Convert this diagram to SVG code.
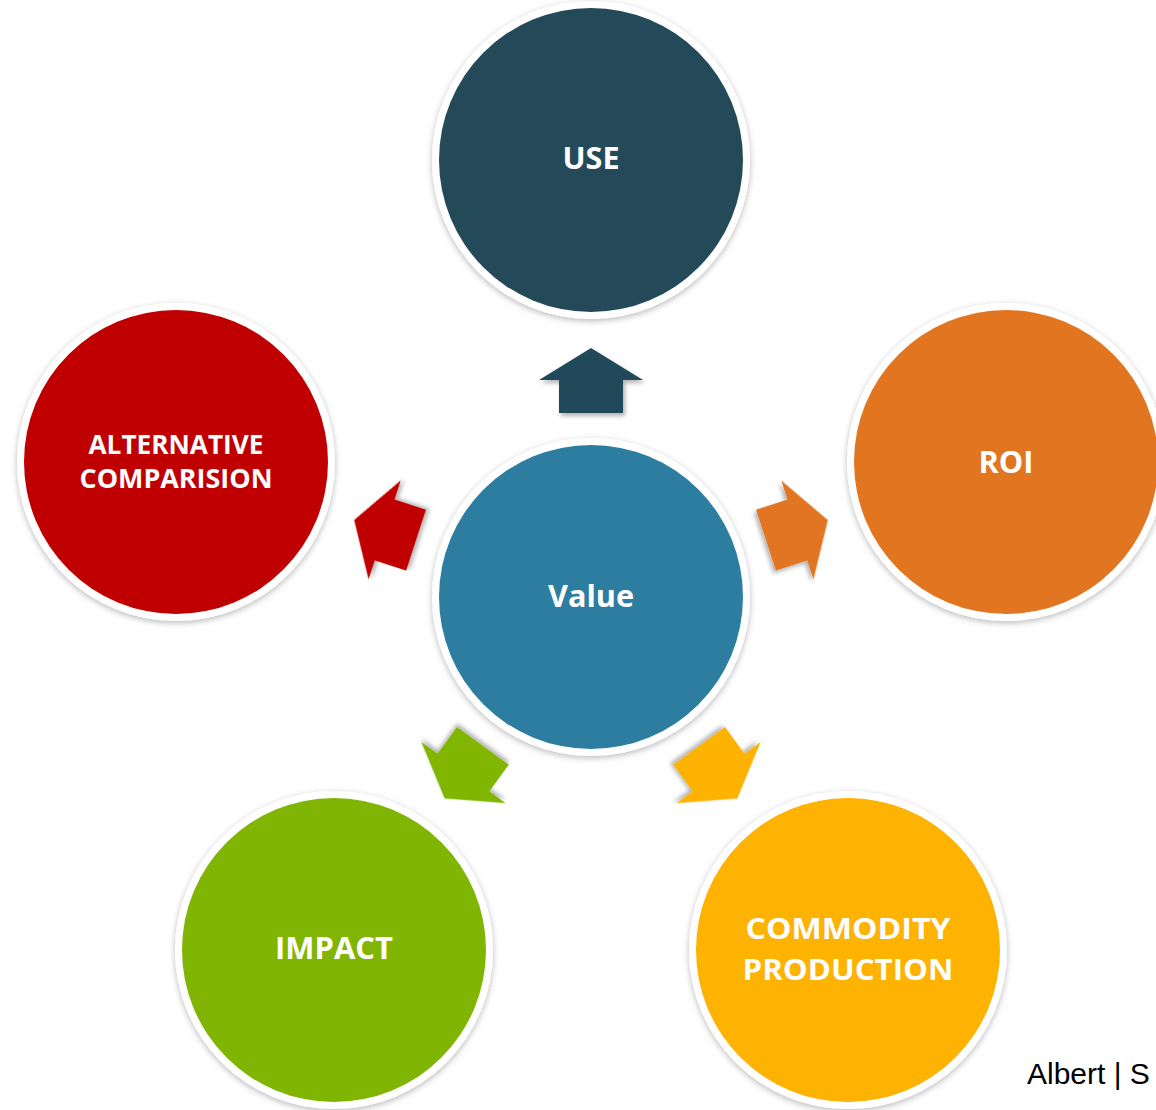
<svg xmlns="http://www.w3.org/2000/svg" width="1156" height="1110" viewBox="0 0 1156 1110">
  <defs>
    <filter id="sh" x="-20%" y="-20%" width="140%" height="140%">
      <feDropShadow dx="0" dy="2" stdDeviation="3" flood-color="#000" flood-opacity="0.28"/>
    </filter>
    <filter id="ash" x="-20%" y="-20%" width="140%" height="140%">
      <feDropShadow dx="2" dy="3" stdDeviation="2" flood-color="#000" flood-opacity="0.3"/>
    </filter>
    <path id="arrow" d="M591,348 L643,380 L623,380 L623,413 L559,413 L559,380 L539,380 Z"/>
  </defs>
  <style>
    .ring { fill: #ffffff; filter: url(#sh); }
    .lbl { font-family: "Open Sans", "Noto Sans", sans-serif; font-weight: bold; fill: #ffffff; text-anchor: middle; }
  </style>
  <rect width="1156" height="1110" fill="#ffffff"/>
  <g id="connectors">
    <use href="#arrow" fill="#244A5A" filter="url(#ash)"/>
    <use href="#arrow" fill="#E17520" filter="url(#ash)" transform="rotate(72 591 597)"/>
    <use href="#arrow" fill="#FEB201" filter="url(#ash)" transform="rotate(144 591 597)"/>
    <use href="#arrow" fill="#80B504" filter="url(#ash)" transform="rotate(216 591 597)"/>
    <use href="#arrow" fill="#C00000" filter="url(#ash)" transform="rotate(288 591 597)"/>
  </g>
  <g id="use">
    <circle class="ring" cx="591" cy="160" r="159"/>
    <circle cx="591" cy="160" r="152" fill="#244A5A"/>
    <text class="lbl" x="591" y="169" font-size="31" textLength="57" lengthAdjust="spacingAndGlyphs">USE</text>
  </g>
  <g id="value">
    <circle class="ring" cx="591" cy="597" r="159"/>
    <circle cx="591" cy="597" r="152" fill="#2D7DA1"/>
    <text class="lbl" x="591" y="607" font-size="31" textLength="86" lengthAdjust="spacingAndGlyphs">Value</text>
  </g>
  <g id="roi">
    <circle class="ring" cx="1006" cy="462" r="159"/>
    <circle cx="1006" cy="462" r="152" fill="#E17520"/>
    <text class="lbl" x="1006" y="473" font-size="31" textLength="55" lengthAdjust="spacingAndGlyphs">ROI</text>
  </g>
  <g id="alternative">
    <circle class="ring" cx="176" cy="462" r="159"/>
    <circle cx="176" cy="462" r="152" fill="#C00000"/>
    <text class="lbl" x="176" y="454" font-size="26" textLength="175" lengthAdjust="spacingAndGlyphs">ALTERNATIVE</text>
    <text class="lbl" x="176" y="488" font-size="26" textLength="193" lengthAdjust="spacingAndGlyphs">COMPARISION</text>
  </g>
  <g id="impact">
    <circle class="ring" cx="334" cy="950" r="159"/>
    <circle cx="334" cy="950" r="152" fill="#80B504"/>
    <text class="lbl" x="334" y="959" font-size="31" textLength="118" lengthAdjust="spacingAndGlyphs">IMPACT</text>
  </g>
  <g id="commodity">
    <circle class="ring" cx="848" cy="950" r="159"/>
    <circle cx="848" cy="950" r="152" fill="#FEB201"/>
    <text class="lbl" x="848" y="939" font-size="29" textLength="205" lengthAdjust="spacingAndGlyphs">COMMODITY</text>
    <text class="lbl" x="848" y="980" font-size="29" textLength="211" lengthAdjust="spacingAndGlyphs">PRODUCTION</text>
  </g>
  <text x="1027" y="1084" font-family="Liberation Sans, Arial, sans-serif" font-size="30" fill="#000000">Albert | S</text>
</svg>
